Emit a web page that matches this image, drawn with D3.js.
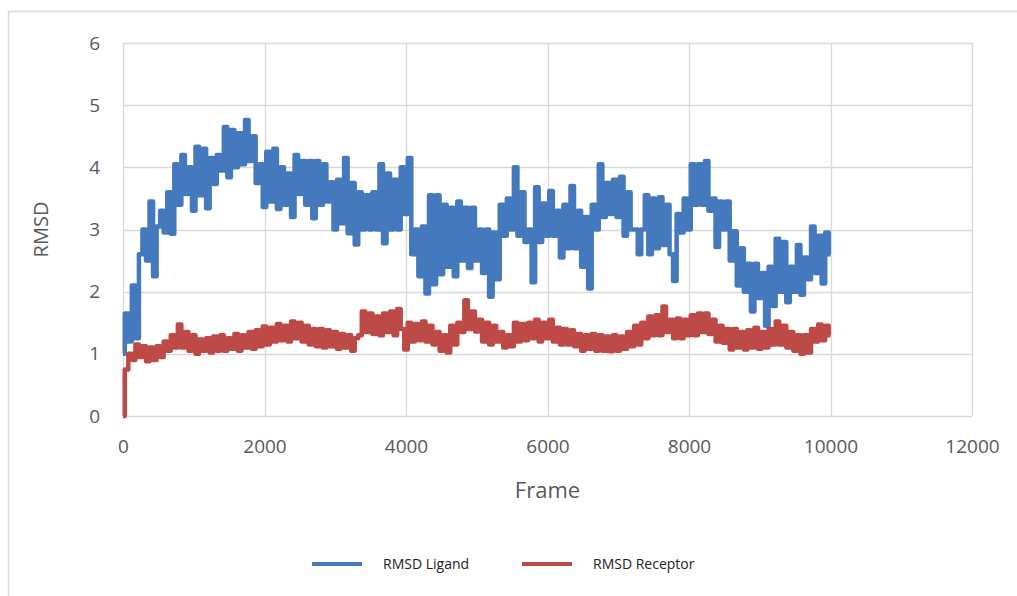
<!DOCTYPE html>
<html>
<head>
<meta charset="utf-8">
<script src="https://cdn.jsdelivr.net/npm/d3@7"></script>
<style>
  body { margin: 0; background: #fff; }
  svg { display: block; font-family: "Open Sans", "Noto Sans", sans-serif; }
</style>
</head>
<body>
<div id="chart"></div>
<script>
var frameStep = 50;

var ligand = [
  1.0, 1.65, 1.2, 2.1, 1.25, 2.6, 3.0, 2.5, 3.45, 2.25,
  3.05, 3.3, 2.95, 3.6, 2.93, 4.05, 3.4, 4.2, 3.57, 4.0,
  3.3, 4.33, 3.55, 4.3, 3.34, 4.15, 3.73, 4.2, 3.95, 4.65,
  3.84, 4.6, 4.0, 4.55, 4.05, 4.76, 4.1, 4.5, 3.75, 4.05,
  3.36, 4.25, 3.45, 4.3, 3.33, 4.0, 3.4, 3.9, 3.2, 4.2,
  3.57, 4.1, 3.4, 4.1, 3.18, 4.1, 3.4, 4.05, 3.45, 3.76,
  3.0, 3.8, 3.1, 4.15, 2.94, 3.75, 2.76, 3.6, 3.0, 3.55,
  3.0, 3.6, 3.0, 4.05, 2.78, 3.9, 3.0, 3.8, 3.0, 4.0,
  3.25, 4.15, 2.6, 3.0, 2.25, 3.05, 1.97, 3.55, 2.12, 3.55,
  2.28, 3.4, 2.4, 3.35, 2.25, 3.45, 2.5, 3.35, 2.38, 3.35,
  2.5, 3.0, 2.3, 3.0, 1.92, 2.95, 2.2, 3.4, 2.9, 3.5,
  3.0, 4.0, 2.9, 3.6, 2.8, 3.0, 2.15, 3.68, 2.8, 3.42,
  2.9, 3.62, 2.9, 3.3, 2.55, 3.4, 2.7, 3.7, 2.7, 3.3,
  2.4, 3.2, 2.05, 3.4, 3.0, 4.05, 3.2, 3.75, 3.25, 3.8,
  3.2, 3.85, 2.9, 3.6, 3.0, 3.0, 2.6, 3.0, 3.55, 2.6,
  3.5, 2.7, 3.52, 2.75, 3.4, 2.6, 2.17, 3.25, 2.95, 3.5,
  3.0, 4.05, 3.4, 4.05, 3.4, 4.1, 3.3, 3.5, 2.72, 3.45,
  3.0, 3.45, 2.5, 2.97, 2.1, 2.7, 2.0, 2.45, 1.68, 2.45,
  1.9, 2.3, 1.45, 2.4, 1.77, 2.85, 2.0, 2.8, 1.83, 2.4,
  2.0, 2.75, 1.95, 2.55, 2.2, 3.05, 2.3, 2.9, 2.13, 2.95,
  2.6
];

var receptor = [
  0.0, 0.75, 1.0, 0.9, 1.15, 0.95, 1.12, 0.88, 1.1, 0.9,
  1.12, 0.95, 1.2, 1.05, 1.3, 1.1, 1.47, 1.1, 1.35, 1.05,
  1.3, 1.0, 1.23, 1.05, 1.25, 1.02, 1.28, 1.05, 1.3, 1.05,
  1.25, 1.08, 1.32, 1.05, 1.3, 1.1, 1.35, 1.08, 1.38, 1.12,
  1.44, 1.15, 1.42, 1.2, 1.48, 1.22, 1.45, 1.2, 1.52, 1.25,
  1.5, 1.2, 1.45, 1.15, 1.4, 1.12, 1.4, 1.1, 1.38, 1.12,
  1.35, 1.08, 1.32, 1.1, 1.3, 1.05, 1.25, 1.3, 1.68, 1.35,
  1.65, 1.32, 1.6, 1.3, 1.65, 1.35, 1.68, 1.3, 1.72, 1.4,
  1.07, 1.5, 1.2, 1.48, 1.22, 1.52, 1.2, 1.45, 1.15, 1.35,
  1.05, 1.3, 1.02, 1.45, 1.15, 1.5, 1.35, 1.86, 1.4, 1.68,
  1.36, 1.55, 1.2, 1.5, 1.15, 1.45, 1.2, 1.35, 1.1, 1.3,
  1.12, 1.5, 1.2, 1.48, 1.22, 1.5, 1.25, 1.55, 1.2, 1.5,
  1.25, 1.55, 1.2, 1.42, 1.15, 1.4, 1.15, 1.38, 1.12, 1.32,
  1.05, 1.3, 1.08, 1.32, 1.05, 1.3, 1.05, 1.28, 1.04, 1.3,
  1.05, 1.28, 1.08, 1.35, 1.12, 1.45, 1.15, 1.5, 1.25, 1.6,
  1.3, 1.62, 1.3, 1.76, 1.35, 1.55, 1.25, 1.57, 1.25, 1.55,
  1.3, 1.62, 1.3, 1.65, 1.35, 1.65, 1.32, 1.55, 1.2, 1.45,
  1.18, 1.4, 1.07, 1.4, 1.1, 1.35, 1.07, 1.38, 1.1, 1.42,
  1.08, 1.35, 1.1, 1.4, 1.15, 1.52, 1.15, 1.45, 1.1, 1.35,
  1.05, 1.3, 1.0, 1.3, 1.02, 1.4, 1.2, 1.47, 1.22, 1.45,
  1.3
];

var xTicks = [0, 2000, 4000, 6000, 8000, 10000, 12000];
var yTicks = [0, 1, 2, 3, 4, 5, 6];
var seriesNames = ["RMSD Ligand", "RMSD Receptor"];
var seriesColors = ["#4579be", "#be4a47"];

var W = 1017, H = 596;
var margin = { left: 123, right: 45, top: 43, bottom: 180 };

var svg = d3.select("#chart").append("svg")
  .attr("width", W).attr("height", H);

// Outer chart frame (only top and left edges are visible)
svg.append("path")
  .attr("d", "M8.5," + H + "V11.5H" + W)
  .attr("fill", "none").attr("stroke", "#d9d9d9").attr("stroke-width", 1.5);

var x = d3.scaleLinear().domain([0, 12000]).range([margin.left, W - margin.right]);
var y = d3.scaleLinear().domain([0, 6]).range([H - margin.bottom, margin.top]);

// Grid lines
svg.append("g").selectAll("line.h").data(yTicks).enter().append("line")
  .attr("x1", x(0)).attr("x2", x(12000))
  .attr("y1", function (d) { return Math.round(y(d)) + 0.5; })
  .attr("y2", function (d) { return Math.round(y(d)) + 0.5; })
  .attr("stroke", "#d9d9d9").attr("stroke-width", 1.3);

svg.append("g").selectAll("line.v").data(xTicks).enter().append("line")
  .attr("y1", y(0)).attr("y2", y(6))
  .attr("x1", function (d) { return Math.round(x(d)) + 0.5; })
  .attr("x2", function (d) { return Math.round(x(d)) + 0.5; })
  .attr("stroke", "#d9d9d9").attr("stroke-width", 1.3);

// Axes (labels only)
var xAxis = svg.append("g")
  .attr("transform", "translate(0," + (y(0) + 15) + ")")
  .call(d3.axisBottom(x).tickValues(xTicks).tickFormat(d3.format("d")).tickSize(0).tickPadding(9));
var yAxis = svg.append("g")
  .attr("transform", "translate(" + (x(0) - 14) + ",0)")
  .call(d3.axisLeft(y).tickValues(yTicks).tickFormat(d3.format("d")).tickSize(0).tickPadding(9));

[xAxis, yAxis].forEach(function (a) {
  a.select(".domain").remove();
  a.selectAll("text")
    .attr("fill", "#595959")
    .style("font-size", "19px")
    .style("font-family", "\"Open Sans\", sans-serif");
});

// Axis titles
svg.append("text")
  .attr("x", (x(0) + x(12000)) / 2).attr("y", 498)
  .attr("text-anchor", "middle")
  .attr("fill", "#595959")
  .style("font-size", "22px")
  .text("Frame");

svg.append("text")
  .attr("transform", "translate(48," + y(3) + ") rotate(-90)")
  .attr("text-anchor", "middle")
  .attr("fill", "#595959")
  .style("font-size", "20px")
  .text("RMSD");

// Series lines: stepped so the rapid frame-to-frame noise reads as a dense band
var line = d3.line()
  .x(function (d, i) { return x(i * frameStep); })
  .y(function (d) { return y(d); })
  .curve(d3.curveStep);

[ligand, receptor].forEach(function (s, k) {
  svg.append("path")
    .datum(s)
    .attr("d", line)
    .attr("fill", "none")
    .attr("stroke", seriesColors[k])
    .attr("stroke-width", 4.5)
    .attr("stroke-linejoin", "round");
});

// Legend
var legendX = [312, 522];
seriesNames.forEach(function (name, k) {
  svg.append("line")
    .attr("x1", legendX[k]).attr("x2", legendX[k] + 50)
    .attr("y1", 564).attr("y2", 564)
    .attr("stroke", seriesColors[k]).attr("stroke-width", 4);
  svg.append("text")
    .attr("x", legendX[k] + 71).attr("y", 569)
    .attr("fill", "#222")
    .style("font-size", "14px")
    .text(name);
});
</script>
</body>
</html>
